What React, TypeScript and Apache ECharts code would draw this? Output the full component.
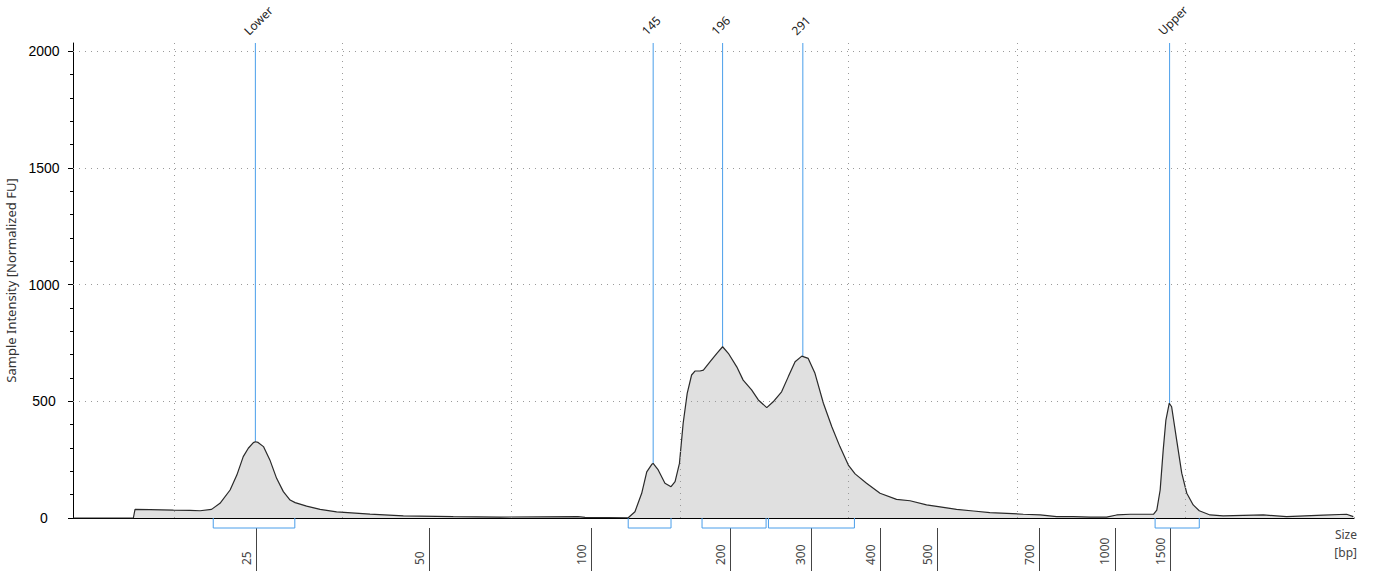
import React, { useEffect, useRef } from "react";
import * as echarts from "echarts";

// Migration position (arbitrary time units) vs. normalized fluorescence
const curve: [number, number][] = [
  [17.0, 0], [18.79, 0], [18.84, 37], [19.28, 36], [19.98, 34], [20.47, 33], [20.77, 31],
  [21.11, 37], [21.36, 63], [21.66, 120], [21.86, 184], [22.05, 263], [22.2, 299],
  [22.35, 323], [22.41, 327], [22.49, 324], [22.65, 306], [22.84, 249], [23.04, 170],
  [23.24, 113], [23.44, 77], [23.59, 66], [23.93, 51], [24.33, 37], [24.82, 26],
  [25.81, 17], [26.8, 9], [28.28, 6], [29.67, 4], [31.98, 6], [32.19, 3], [33.47, 1],
  [33.67, 27], [33.87, 106], [34.02, 198], [34.17, 230], [34.21, 234], [34.36, 206],
  [34.56, 149], [34.74, 134], [34.86, 156], [34.99, 234], [35.1, 406], [35.22, 534],
  [35.35, 613], [35.45, 630], [35.6, 630], [35.7, 634], [35.9, 670], [36.1, 706],
  [36.27, 734], [36.44, 706], [36.69, 648], [36.88, 591], [37.13, 549], [37.33, 506],
  [37.58, 473], [37.77, 498], [38.02, 541], [38.22, 606], [38.42, 670], [38.62, 694],
  [38.81, 684], [39.01, 620], [39.26, 492], [39.51, 391], [39.75, 306], [40.0, 227],
  [40.2, 189], [40.54, 149], [40.94, 106], [41.43, 80], [41.83, 74], [42.32, 56],
  [42.72, 48], [43.21, 37], [43.71, 30], [44.2, 23], [44.7, 20], [45.19, 16],
  [45.69, 13], [46.18, 6], [46.67, 6], [47.17, 4], [47.66, 4], [47.96, 13], [48.36, 16],
  [49.05, 16], [49.15, 34], [49.25, 120], [49.34, 291], [49.42, 420], [49.52, 492],
  [49.59, 477], [49.74, 334], [49.89, 192], [50.04, 106], [50.23, 56], [50.41, 31],
  [50.73, 13], [51.12, 9], [52.31, 13], [53.0, 6], [54.09, 12], [54.78, 16], [54.98, 6],
];

// Size ladder: position on the time axis -> size label (bp)
const ladderTime = [22.43, 27.57, 32.37, 36.49, 38.89, 40.96, 42.65, 45.66, 47.91, 49.56];
const ladderBp = ["25", "50", "100", "200", "300", "400", "500", "700", "1000", "1500"];

// Called peaks
const peakTime = [22.41, 34.21, 36.27, 38.65, 49.53];
const peakFU = [327, 234, 734, 694, 492];
const peakLabel = ["Lower", "145", "196", "291", "Upper"];

// Integrated regions
const regionStart = [21.16, 33.47, 35.66, 37.63, 49.1];
const regionEnd = [23.58, 34.74, 37.56, 40.18, 50.41];
const regionStartFU = [37, 1, 627, 473, 16];
const regionEndFU = [66, 134, 473, 189, 31];

// Axes
const yTicks = [0, 500, 1000, 1500, 2000];
const yMinorTicks = [100, 200, 300, 400, 600, 700, 800, 900, 1100, 1200, 1300, 1400, 1600, 1700, 1800, 1900];
const xGridTimes = [20, 25, 30, 35, 40, 45, 50, 55];
const yGridValues = [500, 1000, 1500, 2000];
const X_MIN = 17;
const X_MAX = 55;
const Y_MAX = 2036;

const BLUE = "#4a9eea";
const UI_FONT = "'Noto Sans', 'Open Sans', sans-serif";

export default function App() {
  const ref = useRef<HTMLDivElement>(null);

  useEffect(() => {
    if (!ref.current) return;
    const chart = echarts.init(ref.current, undefined, { renderer: "svg" });

    const option: any = {
      animation: false,
      backgroundColor: "#ffffff",
      grid: {
        left: 73,
        right: 33,
        top: 43,
        bottom: 53,
        containLabel: false,
        outerBoundsMode: "none",
      },
      xAxis: [
        {
          type: "value",
          min: X_MIN,
          max: X_MAX,
          position: "bottom",
          axisLine: { show: true, onZero: true, lineStyle: { color: "#000", width: 1 } },
          axisTick: { show: false },
          axisLabel: { show: false },
          splitLine: { show: false },
        },
        {
          type: "value",
          min: X_MIN,
          max: X_MAX,
          position: "bottom",
          offset: 10,
          axisLine: { show: false, onZero: false },
          axisTick: {
            show: true,
            customValues: ladderTime,
            length: 46,
            lineStyle: { color: "#444", width: 1 },
          },
          axisLabel: {
            show: true,
            customValues: ladderTime,
            rotate: 90,
            margin: 37,
            align: "left",
            verticalAlign: "bottom",
            padding: [0, 0, 4, 0],
            fontSize: 12,
            fontFamily: UI_FONT,
            color: "#444",
            formatter: (v: number) => {
              const i = ladderTime.findIndex((t) => Math.abs(t - v) < 1e-6);
              return i >= 0 ? ladderBp[i] : "";
            },
          },
          splitLine: { show: false },
        },
      ],
      yAxis: [
        {
          type: "value",
          min: 0,
          max: Y_MAX,
          position: "left",
          name: "Sample Intensity [Normalized FU]",
          nameLocation: "middle",
          nameGap: 55,
          nameTextStyle: { fontSize: 13, fontFamily: UI_FONT, color: "#333" },
          axisLine: { show: true, lineStyle: { color: "#000", width: 1 } },
          axisTick: { show: true, length: 5, customValues: yTicks, lineStyle: { color: "#000" } },
          axisLabel: {
            customValues: yTicks,
            align: "center",
            margin: 29,
            fontSize: 14,
            fontFamily: "'Liberation Sans', Arial, sans-serif",
            color: "#000",
            formatter: (v: number) => String(v),
          },
          splitLine: { show: false },
        },
        {
          type: "value",
          min: 0,
          max: Y_MAX,
          position: "left",
          axisLine: { show: false },
          axisTick: { show: true, length: 3, customValues: yMinorTicks, lineStyle: { color: "#000" } },
          axisLabel: { show: false },
          splitLine: { show: false },
        },
      ],
      graphic: [
        {
          type: "text",
          right: 30,
          top: 525,
          style: {
            text: "Size\n[bp]",
            fontSize: 12,
            lineHeight: 18,
            fontFamily: UI_FONT,
            fill: "#444",
            align: "right",
            textAlign: "right",
          },
        },
      ],
      series: [
        {
          type: "line",
          xAxisIndex: 0,
          yAxisIndex: 0,
          data: curve,
          showSymbol: false,
          symbol: "none",
          smooth: false,
          lineStyle: { color: "#2a2a2a", width: 1.2 },
          areaStyle: { color: "#e0e0e0", opacity: 1 },
          silent: true,
          markLine: {
            silent: true,
            symbol: ["none", "none"],
            label: { show: false },
            lineStyle: { color: "#9a9a9a", type: [1, 5], width: 1 },
            emphasis: { disabled: true },
            data: [
              ...xGridTimes.map((v) => ({ xAxis: v })),
              ...yGridValues.map((v) => ({ yAxis: v })),
            ],
          },
        },
        {
          type: "custom",
          xAxisIndex: 0,
          yAxisIndex: 0,
          silent: true,
          clip: false,
          encode: { x: [0, 1], y: [2, 3] },
          data: regionStart.map((s, i) => [s, regionEnd[i], regionStartFU[i], regionEndFU[i]]),
          renderItem: (params: any, api: any) => {
            const s = api.value(0);
            const e = api.value(1);
            const p1 = api.coord([s, api.value(2)]);
            const p4 = api.coord([e, api.value(3)]);
            const base = api.coord([s, 0])[1] + 10;
            return {
              type: "polyline",
              shape: { points: [p1, [p1[0], base], [p4[0], base], p4] },
              style: { stroke: BLUE, lineWidth: 1, fill: "none" },
            };
          },
        },
        {
          type: "custom",
          xAxisIndex: 0,
          yAxisIndex: 0,
          silent: true,
          clip: false,
          encode: { x: 0, y: 1 },
          data: peakTime.map((t, i) => [t, peakFU[i]]),
          renderItem: (params: any, api: any) => {
            const i = params.dataIndex;
            const bottom = api.coord([api.value(0), api.value(1)]);
            const top = api.coord([api.value(0), Y_MAX]);
            return {
              type: "group",
              children: [
                {
                  type: "line",
                  shape: { x1: bottom[0], y1: bottom[1], x2: top[0], y2: top[1] },
                  style: { stroke: BLUE, lineWidth: 1 },
                },
                {
                  type: "text",
                  x: top[0] - 5,
                  y: top[1] - 6,
                  rotation: Math.PI / 4,
                  style: {
                    text: peakLabel[i],
                    x: 0,
                    y: 0,
                    fontSize: 12,
                    fontFamily: UI_FONT,
                    fill: "#222",
                    align: "left",
                    verticalAlign: "bottom",
                    textAlign: "left",
                    textVerticalAlign: "bottom",
                  },
                },
              ],
            };
          },
        },
      ],
    };

    chart.setOption(option);
    return () => {
      chart.dispose();
    };
  }, []);

  return (
    <div
      ref={ref}
      style={{ position: "fixed", left: 0, top: 0, width: 1387, height: 571, background: "#fff" }}
    />
  );
}
